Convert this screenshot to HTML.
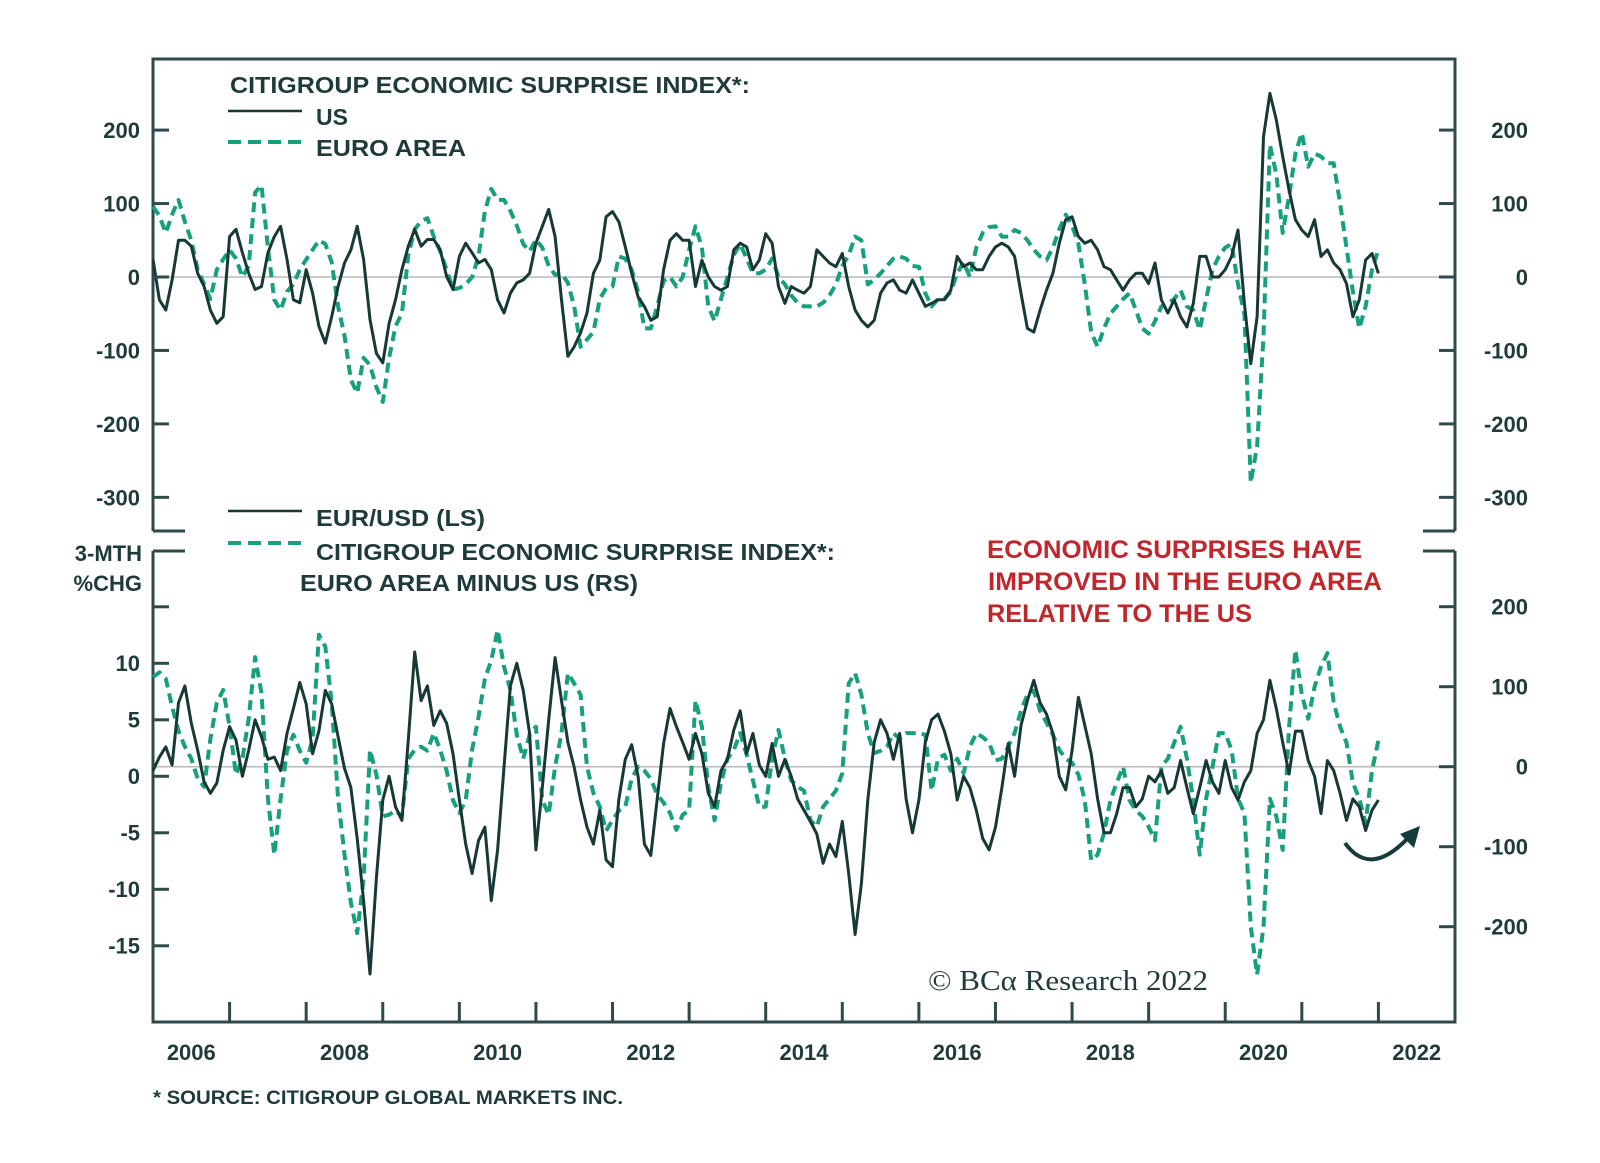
<!DOCTYPE html>
<html><head><meta charset="utf-8"><style>
html,body{margin:0;padding:0;background:#fff;}
svg{display:block;font-family:"Liberation Sans",sans-serif;}
.lbl{font-weight:bold;fill:#1f3a3a;}
</style></head><body>
<svg id="chart" width="1600" height="1163" viewBox="0 0 1600 1163" xmlns="http://www.w3.org/2000/svg">
<g id="frame" stroke="#2f4a4a" stroke-width="3" fill="none"></g>
<g id="grid"></g>
<g id="series"></g>
<g id="axes"></g>
<g>
<text class="lbl" x="230" y="93" font-size="23" textLength="520" lengthAdjust="spacingAndGlyphs">CITIGROUP ECONOMIC SURPRISE INDEX*:</text>
<line x1="228" y1="111" x2="302" y2="111" stroke="#173936" stroke-width="2.5"/>
<text class="lbl" x="316" y="125" font-size="23">US</text>
<line x1="228" y1="142" x2="302" y2="142" stroke="#16a07c" stroke-width="4" stroke-dasharray="13,7"/>
<text class="lbl" x="316" y="156" font-size="23" textLength="150" lengthAdjust="spacingAndGlyphs">EURO AREA</text>
</g>
<g>
<line x1="228" y1="511" x2="302" y2="511" stroke="#173936" stroke-width="2.5"/>
<text class="lbl" x="316" y="526" font-size="23" textLength="169" lengthAdjust="spacingAndGlyphs">EUR/USD (LS)</text>
<line x1="228" y1="543" x2="302" y2="543" stroke="#16a07c" stroke-width="4" stroke-dasharray="13,7"/>
<text class="lbl" x="316" y="560" font-size="23" textLength="519" lengthAdjust="spacingAndGlyphs">CITIGROUP ECONOMIC SURPRISE INDEX*:</text>
<text class="lbl" x="300" y="591" font-size="23" textLength="338" lengthAdjust="spacingAndGlyphs">EURO AREA MINUS US (RS)</text>
</g>
<text class="lbl" x="142" y="561" font-size="22" text-anchor="end">3-MTH</text>
<text class="lbl" x="142" y="591" font-size="22" text-anchor="end">%CHG</text>
<g font-weight="bold" font-size="25" fill="#c0272d">
<text x="987" y="558" textLength="375" lengthAdjust="spacingAndGlyphs">ECONOMIC SURPRISES HAVE</text>
<text x="988" y="590" textLength="394" lengthAdjust="spacingAndGlyphs">IMPROVED IN THE EURO AREA</text>
<text x="987" y="622" textLength="265" lengthAdjust="spacingAndGlyphs">RELATIVE TO THE US</text>
</g>
<path d="M1345,843 Q1370,878 1408,838" fill="none" stroke="#163c3a" stroke-width="4"/>
<polygon points="1420,826 1400,834 1414,848" fill="#163c3a"/>
<text x="928" y="990" font-family="'Liberation Serif',serif" font-size="28" fill="#1f3a3a" textLength="280" lengthAdjust="spacingAndGlyphs">© BCα Research 2022</text>
<text class="lbl" x="153" y="1104" font-size="19" textLength="470" lengthAdjust="spacingAndGlyphs">* SOURCE: CITIGROUP GLOBAL MARKETS INC.</text>
</svg>
<script>
// Monthly data, Jan 2006 .. Jan 2022
const usSurprise = [
24,-31,-45,-4,50,50,42,5,-13,-45,-63,-54,
55,65,33,5,-17,-13,33,55,69,24,-31,-35,
10,-22,-67,-90,-54,-13,19,37,69,24,-58,-104,
-117,-63,-31,10,42,65,42,51,51,37,1,-17,
28,46,33,19,24,10,-31,-49,-22,-8,-4,5,
46,69,92,55,-31,-108,-95,-76,-49,5,23,82,
89,75,41,5,-27,-40,-59,-54,10,50,59,50,
50,-13,23,0,-13,-18,-13,37,46,41,10,23,
59,46,-13,-36,-13,-18,-22,-13,37,28,19,14,
32,-13,-45,-59,-68,-59,-22,-8,-4,-18,-22,-4,
-22,-40,-36,-31,-31,-18,28,14,19,10,10,28,
41,46,41,28,-22,-70,-75,-45,-18,5,46,78,
82,55,46,50,37,14,10,-4,-18,-4,5,5,
-9,19,-31,-49,-31,-54,-68,-36,28,28,0,0,
10,28,64,-36,-118,-54,191,250,214,164,118,78,
64,55,78,28,37,19,10,-9,-54,-31,23,32,
5];
const euroSurprise = [
96,83,60,85,105,75,50,10,-10,-30,10,24,
37,25,0,15,115,125,40,-31,-45,-20,-10,10,
24,37,50,45,20,-40,-80,-140,-158,-110,-120,-150,
-170,-110,-67,-50,30,65,76,80,55,35,10,-17,
-15,-10,0,28,90,120,105,105,90,70,45,35,
51,40,15,3,5,-8,-40,-95,-85,-75,-30,-15,
-13,28,25,10,-20,-70,-70,-40,-5,0,-13,0,
37,69,40,-40,-60,-30,0,30,45,25,5,5,
10,25,0,-10,-25,-35,-40,-40,-40,-35,-25,-10,
15,30,55,50,-10,-4,5,15,25,28,25,15,
14,-22,-40,-30,-30,-20,5,20,0,40,60,68,
69,55,55,64,60,50,37,28,23,40,65,85,
70,45,-10,-75,-95,-70,-50,-40,-30,-22,-45,-70,
-77,-60,-40,-36,-30,-18,-40,-45,-72,-30,10,28,
40,45,-10,-50,-280,-230,-80,180,140,60,110,168,
196,150,168,164,155,155,100,40,-20,-70,-40,10,
37];
const eurusd = [
0.5,1.7,2.6,1,6.5,8,4.7,2.3,-0.5,-1.5,-0.6,2.3,
4.4,3.2,0,2.3,5,3.5,1.5,1.7,0.5,3.8,6,8.3,
6.4,2,4,7.6,6.4,3.5,0.7,-1,-5.5,-11,-17.5,-9,
-2.1,0,-2.7,-3.9,3.2,11,6.7,8,4.5,5.8,4.7,2,
-2.1,-6,-8.6,-5.7,-4.5,-11,-6.5,0.8,8,10,7.6,3.8,
-6.5,-1,5,10.5,6.7,3,0.8,-2.1,-4.5,-6,-3,-7.4,
-8,-2,1.5,2.8,0,-6,-7,-2,2.9,6,4.4,3,
1.5,3.8,2,-1.5,-2.7,0.5,1.5,4.1,5.8,2,3.8,1,
0,2.9,0,1.5,0,-2,-3,-4,-5.1,-7.7,-6,-7.1,
-4,-8.6,-14,-9.5,-2.1,3,5,3.8,1.5,3.8,-2,-5,
-2.1,3,5,5.5,4,2,-2.1,0,-1,-3,-5.5,-6.5,
-4.5,-1,2.9,0,4.5,6.7,8.5,6.5,5.5,3.8,0,-1.2,
2.3,7,4.5,2,-2,-5,-5,-3.3,-1,-1,-2.7,-2,
0,-0.5,0.5,-1.5,-1,1.4,-1,-3.3,-1,1.4,-0.5,-1.5,
1.4,-1,-2.1,-0.5,0.5,3.8,5,8.5,6,3,0.2,4,
4,1.4,0,-3.3,1.4,0.5,-1.5,-3.9,-2,-2.7,-4.8,-3,
-2.1];
const euroMinusUs = [
112,118,110,75,45,25,10,-15,-25,35,80,96,
50,-10,10,60,137,92,-40,-110,-40,20,40,20,
5,35,165,150,80,-40,-110,-170,-208,-140,21,-10,
-62,-60,-55,-62,10,21,25,20,42,21,-5,-42,
-58,-42,21,62,110,133,171,125,96,40,10,40,
50,-42,-60,0,42,117,104,90,0,-33,-50,-80,
-67,-55,-50,-15,0,-5,-15,-35,-45,-58,-79,-60,
-55,83,50,-25,-67,-20,10,21,42,15,-17,-50,
-50,10,46,10,-17,-25,-30,-67,-75,-50,-40,-30,
-8,104,117,90,42,17,20,25,42,35,42,42,
42,40,-30,10,15,-5,10,-8,25,42,37,30,
8,10,25,42,70,90,95,70,55,40,21,10,
5,-10,-42,-117,-110,-83,-42,-20,0,-42,-55,-62,
-75,-92,0,10,30,50,10,-42,-110,-40,0,42,
42,21,-40,-58,-200,-260,-200,-40,-62,-104,50,146,
90,60,100,125,142,80,50,30,-20,-40,-70,-5,
33];
const topTicks = [200,100,0,-100,-200,-300];
const botLeftTicks = [15,10,5,0,-5,-10,-15];
const botLeftLabels = ["","10","5","0","-5","-10","-15"];
const botRightTicks = [200,100,0,-100,-200];
const yearLabels = ["2006","2008","2010","2012","2014","2016","2018","2020","2022"];

const NS = "http://www.w3.org/2000/svg";
const X0 = 153, X1 = 1455, YEAR0 = 2006, PXY = (X1 - X0) / 17;
const xT = t => X0 + (t - YEAR0) * PXY;
const xI = i => xT(YEAR0 + i / 12);
const yTop = v => 277 - v * 0.7345;
const yBL = v => 776.3 - v * 11.3;
const yBR = v => 766.7 - v * 0.8;

function mk(tag, attrs, parent) {
  const el = document.createElementNS(NS, tag);
  for (const k in attrs) el.setAttribute(k, attrs[k]);
  parent.appendChild(el);
  return el;
}
const frame = document.getElementById('frame');
const grid = document.getElementById('grid');
const series = document.getElementById('series');
const axes = document.getElementById('axes');

let p = mk('path', {d: `M${X0},531 V59 H${X1} V531 M${X0},531 H185 M${X1},531 H1423 M${X0},551 H185 M${X1},551 H1423 M${X0},551 V1022 H${X1} V551`}, frame);



let z1 = mk('line', {x1: X0, x2: X1, y1: yTop(0), y2: yTop(0), stroke: '#b8b8b8', 'stroke-width': 1.5}, grid);


let z2 = mk('line', {x1: X0, x2: X1, y1: yBR(0), y2: yBR(0), stroke: '#b8b8b8', 'stroke-width': 1.5}, grid);



function addText(x, y, s, anchor, size, name) {
  const t = mk('text', {x: x, y: y + size * 0.36, 'text-anchor': anchor, 'font-size': size, class: 'lbl'}, axes);
  t.textContent = s;
  
  
  return t;
}
function addTick(x1, y1, x2, y2, name) {
  const l = mk('line', {x1, y1, x2, y2, stroke: '#2f4a4a', 'stroke-width': 3}, axes);
  
  
}
topTicks.forEach(v => {
  const y = yTop(v);
  addTick(X0, y, X0 + 16, y, 'top-left-tick');
  addTick(X1 - 16, y, X1, y, 'top-right-tick');
  addText(140, y, String(v), 'end', 22, 'top-left-tick-label');
  addText(1528, y, String(v), 'end', 22, 'top-right-tick-label');
});
botLeftTicks.forEach((v, i) => {
  const y = yBL(v);
  addTick(X0, y, X0 + 16, y, 'bottom-left-tick');
  if (botLeftLabels[i]) addText(140, y, botLeftLabels[i], 'end', 22, 'bottom-left-tick-label');
});
botRightTicks.forEach(v => {
  const y = yBR(v);
  addTick(X1 - 16, y, X1, y, 'bottom-right-tick');
  addText(1528, y, String(v), 'end', 22, 'bottom-right-tick-label');
});
for (let yr = 2007; yr <= 2022; yr++) addTick(xT(yr), 1022, xT(yr), 1002, 'x-axis-tick');
yearLabels.forEach(s => addText(xT(+s + 0.5), 1052, s, 'middle', 22, 'x-axis-label'));

function line(arr, yf, color, w, dash, name) {
  const d = arr.map((v, i) => (i ? 'L' : 'M') + xI(i).toFixed(1) + ',' + yf(v).toFixed(1)).join('');
  const el = mk('path', {d, fill: 'none', stroke: color, 'stroke-width': w, 'stroke-linejoin': 'round'}, series);
  if (dash) el.setAttribute('stroke-dasharray', dash);
  
  
}
line(euroSurprise, yTop, '#16a07c', 4, '10,6', 'euro-area-surprise-line');
line(usSurprise, yTop, '#173936', 3, null, 'us-surprise-line');
line(euroMinusUs, yBR, '#16a07c', 4, '10,6', 'euro-minus-us-line');
line(eurusd, yBL, '#173936', 3, null, 'eurusd-line');
</script>
</body></html>
